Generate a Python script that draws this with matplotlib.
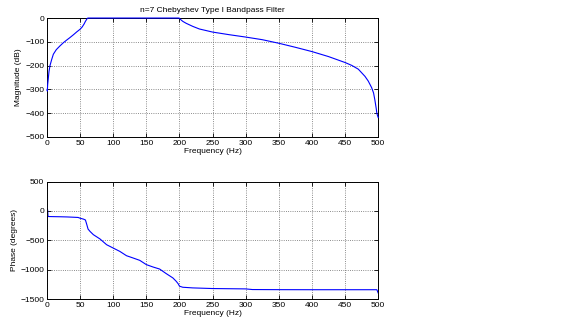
import matplotlib
matplotlib.use('Agg')
import matplotlib.pyplot as plt

# magnitude response
mag_freq = [0.3, 0.5, 1, 2, 3, 4.5, 7, 9.6, 14, 19.6, 25, 30, 34.7, 40, 45, 50, 53, 56, 58, 60, 61, 62,
            80, 100, 120, 140, 160, 180, 199, 200, 202, 205, 210, 220, 230, 250, 275, 300, 325, 350,
            375, 400, 425, 450, 460, 470, 480, 485, 490, 493, 495, 497, 498, 499, 500]
mag_db = [-300, -307, -280, -253, -225, -200, -175, -152, -133, -117, -103, -92, -82, -70, -58, -47, -38, -25,
          -14, -5, -1, 0, 0, 0, 0, 0, 0, 0, 0, -1, -7, -14, -22, -35, -46, -59, -70, -80, -91, -106,
          -123, -141, -162, -187, -199, -215, -245, -265, -292, -315, -345, -380, -400, -410, -418]

# phase response
ph_freq = [0, 0.5, 1, 1.5, 2, 10, 20, 30, 40, 47, 50, 55, 58, 60, 62, 65, 70, 80, 90, 100, 110, 120,
           130, 140, 150, 160, 170, 180, 190, 195, 198, 200, 205, 220, 250, 300, 310, 350, 400, 450,
           498, 499, 500]
ph_deg = [0, 40, 10, -85, -96, -98, -100, -103, -108, -112, -125, -140, -155, -230, -310, -350, -405, -478,
          -576, -633, -690, -763, -802, -842, -915, -955, -990, -1068, -1141, -1198, -1240, -1282, -1300,
          -1311, -1322, -1328, -1339, -1341, -1342, -1342, -1342, -1370, -1398]

plt.rcParams['font.family'] = ['Liberation Sans', 'DejaVu Sans']
plt.rcParams['font.size'] = 6

fig = plt.figure(figsize=(5.76, 3.25), dpi=100)
ax1 = fig.add_axes([0.0816, 0.5785, 0.575, 0.366])
ax2 = fig.add_axes([0.0816, 0.08, 0.575, 0.3615])

ax1.plot(mag_freq, mag_db, color='#0000ff', lw=0.8, clip_on=False, zorder=3)
ax1.set_xlim(0, 500)
ax1.set_ylim(-500, 0)
ax1.set_xticks(range(0, 501, 50))
ax1.set_yticks(range(-500, 1, 100))
ax1.set_ylabel('Magnitude (dB)', labelpad=2)
ax1.set_xlabel('Frequency (Hz)', labelpad=1)
ax1.set_title('n=7 Chebyshev Type I Bandpass Filter', fontsize=6, pad=4)

ax2.plot(ph_freq, ph_deg, color='#0000ff', lw=0.8)
ax2.set_xlim(0, 500)
ax2.set_ylim(-1500, 500)
ax2.set_xticks(range(0, 501, 50))
ax2.set_yticks(range(-1500, 501, 500))
ax2.set_ylabel('Phase (degrees)', labelpad=2)
ax2.set_xlabel('Frequency (Hz)', labelpad=1)

for ax in (ax1, ax2):
    ax.grid(True, linestyle=':', color='#666666', linewidth=0.6)
    ax.tick_params(direction='in', top=True, right=True, length=3, width=0.6, pad=2, labelsize=6)
    for s in ax.spines.values():
        s.set_linewidth(0.7)

fig.savefig('out.png', dpi=100)
